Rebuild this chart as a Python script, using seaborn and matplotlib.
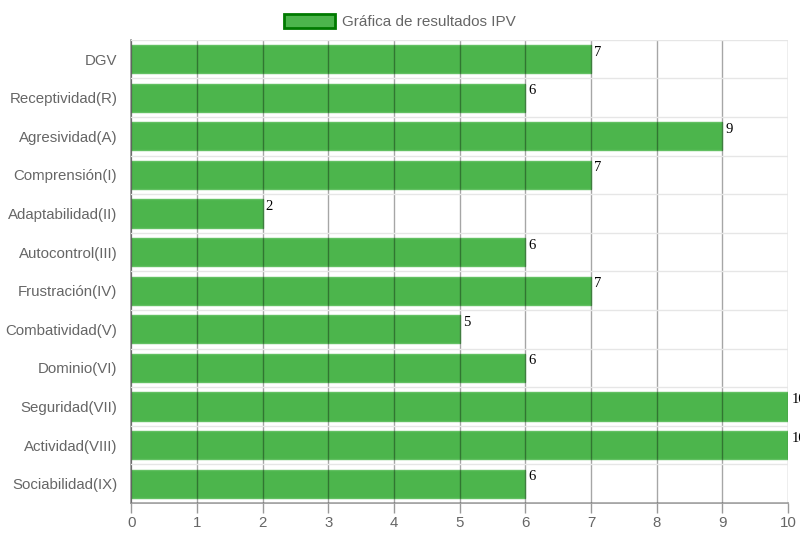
import numpy as np
import pandas as pd
import matplotlib
matplotlib.use("Agg")
import matplotlib.pyplot as plt
import seaborn as sns
from matplotlib.patches import Patch

categorias = ["DGV", "Receptividad(R)", "Agresividad(A)", "Comprensión(I)",
              "Adaptabilidad(II)", "Autocontrol(III)", "Frustración(IV)",
              "Combatividad(V)", "Dominio(VI)", "Seguridad(VII)",
              "Actividad(VIII)", "Sociabilidad(IX)"]
valores = [7, 6, 9, 7, 2, 6, 7, 5, 6, 10, 10, 6]
ticks_x = list(range(0, 11))
etiqueta = "Gráfica de resultados IPV"

verde = "#4cb54c"
gris = "#666666"

sns.set_theme(style="white")
plt.rcParams['font.family'] = ['Liberation Sans', 'DejaVu Sans']

df = pd.DataFrame({"categoria": categorias, "valor": valores})

fig = plt.figure(figsize=(8, 5.38), dpi=100)
ax = fig.add_axes([0.164, 0.065, 0.821, 0.861])

sns.barplot(data=df, x="valor", y="categoria", orient="h", color=verde,
            saturation=1, width=0.73, edgecolor="#62c062", linewidth=1,
            ax=ax, zorder=2)

ax.set_xlim(0, 10)
ax.set_ylim(len(categorias) - 0.5, -0.5)
ax.set_xticks(ticks_x)
ax.set_xlabel("")
ax.set_ylabel("")

# rejilla vertical por encima de las barras
ax.grid(axis="x", color="black", alpha=0.35, linewidth=1, zorder=3)
ax.set_axisbelow(False)
for b in ax.patches:
    b.set_zorder(2)

# separadores horizontales entre categorías
ax.set_yticks(np.arange(-0.5, len(categorias) + 0.5, 1), minor=True)
ax.grid(axis="y", which="minor", color="#e6e6e6", linewidth=1, zorder=1)
ax.tick_params(axis="y", which="minor", length=13, color="#e6e6e6", width=1)
ax.tick_params(axis="y", which="major", length=0, pad=10, labelsize=10.8, labelcolor=gris)
ax.tick_params(axis="x", which="major", length=7, color="#999999", width=1,
               labelsize=10.8, labelcolor=gris, pad=2, bottom=True)

for s in ["top", "right"]:
    ax.spines[s].set_visible(False)
ax.spines["left"].set_color("#999999")
ax.spines["bottom"].set_color("#999999")

for i, v in enumerate(valores):
    ax.text(v + 0.05, i - 0.18, str(v), fontsize=10.5, color="black",
            family=["Liberation Serif", "DejaVu Serif"], ha="left", va="center",
            clip_on=False, zorder=4)

leg = fig.legend(handles=[Patch(facecolor=verde, edgecolor="#007a00", linewidth=2, label=etiqueta)],
                 loc="upper center", bbox_to_anchor=(0.5, 1.0), frameon=False,
                 fontsize=11, handlelength=3.3, handleheight=1.1, handletextpad=0.5)
for t in leg.get_texts():
    t.set_color(gris)

fig.savefig("out.png", dpi=100)
